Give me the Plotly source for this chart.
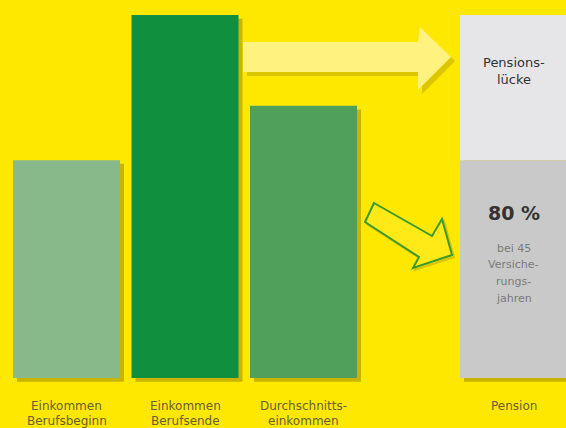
import plotly.graph_objects as go

# ---- data ----
categories = ["Einkommen Berufsbeginn", "Einkommen Berufsende", "Durchschnittseinkommen"]
label_line1 = ["Einkommen", "Einkommen", "Durchschnitts-", "Pension"]
label_line2 = ["Berufsbeginn", "Berufsende", "einkommen", ""]
income_values = [60, 100, 75]
pension_value = 60          # 80 % of Durchschnittseinkommen
pension_gap = 40            # Pensionslücke up to last income
pension_pct_text = "80 %"
gap_text = ["Pensions-", "lücke"]
pension_note = ["bei 45", "Versiche-", "rungs-", "jahren"]

# ---- layout helpers (positions / styles) ----
W, H = 566, 428
x_pos = [66.5, 185, 303.5]
pension_x = 513.5
bar_w = 107
bottom_px = 378
px_per_unit = (bottom_px - 15) / 100.0
y_lo = -(H - bottom_px) / px_per_unit
y_hi = bottom_px / px_per_unit

BG = "#FFE800"
bar_colors = ["#87B98A", "#10903E", "#50A05C"]
shadow = "rgba(120,105,0,0.40)"
FONT = "DejaVu Sans, Liberation Sans, Arial"

fig = go.Figure()

# shadows
fig.add_trace(go.Bar(x=[p + 4 for p in x_pos] + [pension_x + 4],
                     y=income_values + [pension_value + pension_gap],
                     base=-1.0, width=bar_w, marker=dict(color=shadow, line_width=0),
                     hoverinfo="skip", showlegend=False))
# income bars
fig.add_trace(go.Bar(x=x_pos, y=income_values, width=bar_w,
                     marker=dict(color=bar_colors, line_width=0),
                     name="Einkommen", showlegend=False))
# pension
fig.add_trace(go.Bar(x=[pension_x], y=[pension_value], width=bar_w,
                     marker=dict(color="#C9C9C9", line_width=0), showlegend=False))
fig.add_trace(go.Bar(x=[pension_x], y=[pension_gap], base=[pension_value], width=bar_w,
                     marker=dict(color="#E6E6E8", line_width=0), showlegend=False))


def path(points):
    return "M " + " L ".join(f"{x/W:.4f},{1 - y/H:.4f}" for x, y in points) + " Z"


# big pale arrow (decoration)
big_arrow = [(243, 42), (418, 42), (420, 27), (451, 57), (418, 90), (418, 72), (243, 72)]
fig.add_shape(type="path", xref="paper", yref="paper",
              path=path([(x + 4, y + 4) for x, y in big_arrow]),
              fillcolor="rgba(140,120,0,0.30)", line_width=0, layer="above")
fig.add_shape(type="path", xref="paper", yref="paper", path=path(big_arrow),
              fillcolor="#FFF27E", line_width=0, layer="above")

# hollow green arrow (decoration)
green_arrow = [(374, 203), (432, 236), (442, 219), (452, 255), (413, 268), (419, 257), (365, 222)]
fig.add_shape(type="path", xref="paper", yref="paper",
              path=path([(x + 2, y + 2) for x, y in green_arrow]),
              fillcolor="rgba(0,0,0,0)", line=dict(color="rgba(150,130,0,0.35)", width=2), layer="above")
fig.add_shape(type="path", xref="paper", yref="paper", path=path(green_arrow),
              fillcolor="#FFEA18", line=dict(color="#3C9A2C", width=2), layer="above")

ann = []
font_lbl = dict(family=FONT, size=12, color="#66613A")
for i, x in enumerate(x_pos + [pension_x]):
    ann.append(dict(x=x, y=0, xref="x", yref="y", text=label_line1[i], showarrow=False,
                    yshift=-28, font=font_lbl))
    if label_line2[i]:
        ann.append(dict(x=x, y=0, xref="x", yref="y", text=label_line2[i], showarrow=False,
                        yshift=-43, font=font_lbl))

# texts inside pension bar
top_val = pension_value + pension_gap
for j, t in enumerate(gap_text):
    ann.append(dict(x=pension_x, y=top_val, xref="x", yref="y", text=t, showarrow=False,
                    yshift=-47 - 17 * j,
                    font=dict(family=FONT, size=13, color="#333333")))
ann.append(dict(x=pension_x, y=pension_value, xref="x", yref="y", text="<b>" + pension_pct_text + "</b>",
                showarrow=False, yshift=-53,
                font=dict(family=FONT, size=19, color="#333333")))
for j, t in enumerate(pension_note):
    ann.append(dict(x=pension_x, y=pension_value, xref="x", yref="y", text=t, showarrow=False,
                    yshift=-88 - 16.7 * j,
                    font=dict(family=FONT, size=11, color="#7A7A7A")))

fig.update_layout(
    width=W, height=H, margin=dict(l=0, r=0, t=0, b=0),
    paper_bgcolor=BG, plot_bgcolor=BG, barmode="overlay",
    xaxis=dict(range=[0, W], visible=False, fixedrange=True),
    yaxis=dict(range=[y_lo, y_hi], visible=False, fixedrange=True),
    annotations=ann, showlegend=False,
)
fig.write_html("out.html", config={"displayModeBar": False},
               post_script="document.body.style.margin='0';document.body.style.background='#FFE800';")
